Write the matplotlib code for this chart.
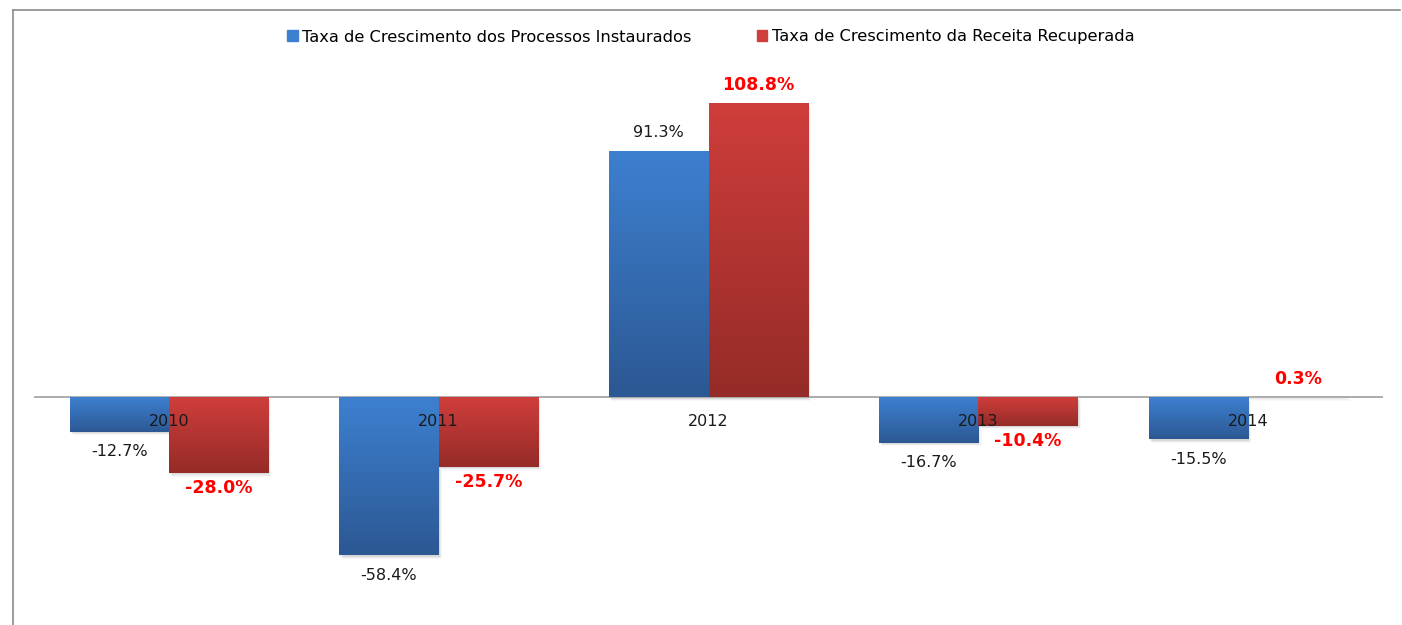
import matplotlib.pyplot as plt
import matplotlib.colors as mcolors
from matplotlib.lines import Line2D
from matplotlib.patches import Rectangle
import numpy as np

anos = ['2010', '2011', '2012', '2013', '2014']
processos = [-12.7, -58.4, 91.3, -16.7, -15.5]
receita = [-28.0, -25.7, 108.8, -10.4, 0.3]
series_names = ['Taxa de Crescimento dos Processos Instaurados',
                'Taxa de Crescimento da Receita Recuperada']

blue_top, blue_bot = '#3d80d0', '#2c5893'
red_top, red_bot = '#cf3e3b', '#952b28'


def gradient_fill(ax, bar, c_top, c_bot):
    # vertical gradient clipped to the bar rectangle
    x0, y0 = bar.get_x(), bar.get_y()
    w, h = bar.get_width(), bar.get_height()
    y_lo, y_hi = min(y0, y0 + h), max(y0, y0 + h)
    cmap = mcolors.LinearSegmentedColormap.from_list('g', [c_bot, c_top])
    grad = np.linspace(0, 1, 256).reshape(-1, 1)
    # soft drop shadow
    for k, a in enumerate([0.07, 0.05, 0.03]):
        d = 0.004 * (k + 1)
        sh = Rectangle((x0 + d, y_lo - 0.45 * (k + 1)), w, y_hi - y_lo,
                       color='#000000', alpha=a, zorder=1, linewidth=0)
        ax.add_patch(sh)
    im = ax.imshow(grad, extent=[x0, x0 + w, y_lo, y_hi], origin='lower',
                   cmap=cmap, aspect='auto', zorder=2)
    im.set_clip_path(bar)


fig = plt.figure(figsize=(14.02, 6.25), dpi=100)
ax = fig.add_axes([34 / 1402, 5 / 625, (1383 - 34) / 1402, (565 - 5) / 625])

x = np.arange(len(anos))
w = 0.368
b1 = ax.bar(x - w / 2, processos, w, color='none', linewidth=0, zorder=2)
b2 = ax.bar(x + w / 2, receita, w, color='none', linewidth=0, zorder=2)
for bar in b1:
    gradient_fill(ax, bar, blue_top, blue_bot)
for bar in b2:
    gradient_fill(ax, bar, red_top, red_bot)

ax.set_xlim(-0.5, len(anos) - 0.5)
ax.set_ylim(-82.3, 124.8)
ax.axhline(0, color='#a6a6a6', linewidth=1.3, zorder=1.5)
ax.axis('off')

# category labels sit right under the zero line
for xi, ano in zip(x, anos):
    ax.text(xi, -9.0, ano, ha='center', va='center', fontsize=11.5,
            color='#1a1a1a', zorder=5)

for xi, v in zip(x, processos):
    off = 6.7 if v >= 0 else -7.3
    ax.text(xi - w / 2, v + off, f'{v:.1f}%', ha='center', va='center',
            fontsize=11.5, color='#1a1a1a', zorder=5)
for xi, v in zip(x, receita):
    off = 6.7 if v >= 0 else -5.6
    ax.text(xi + w / 2, v + off, f'{v:.1f}%', ha='center', va='center',
            fontsize=12.5, color='#ff0000', fontweight='bold', zorder=5)

handles = [Rectangle((0, 0), 1, 1, color=blue_top),
           Rectangle((0, 0), 1, 1, color=red_top)]
fig.legend(handles, series_names, loc='center',
           bbox_to_anchor=(0.5 + 10 / 1402, 1 - 37 / 625),
           ncol=2, frameon=False, fontsize=11.7, handlelength=0.65, handleheight=0.65,
           handletextpad=0.3, columnspacing=4.0)

# chart frame (top and left edges)
fig.add_artist(Line2D([13 / 1402, 13 / 1402], [0, 1 - 10 / 625],
                      transform=fig.transFigure, color='#8c8c8c', linewidth=1.2))
fig.add_artist(Line2D([13 / 1402, 1400 / 1402], [1 - 10 / 625, 1 - 10 / 625],
                      transform=fig.transFigure, color='#8c8c8c', linewidth=1.2))

fig.savefig('out.png', dpi=100)
